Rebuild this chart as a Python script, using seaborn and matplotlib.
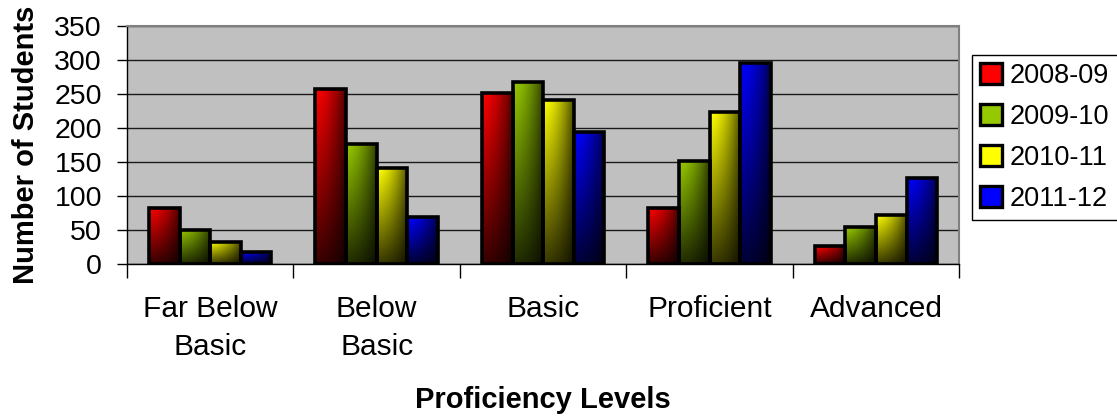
import numpy as np
import pandas as pd
import matplotlib
matplotlib.use("Agg")
import matplotlib.pyplot as plt
from matplotlib.patches import Patch
import seaborn as sns

levels = ["Far Below\nBasic", "Below\nBasic", "Basic", "Proficient", "Advanced"]
years = ["2008-09", "2009-10", "2010-11", "2011-12"]
counts_2008_09 = [83, 258, 252, 83, 26]
counts_2009_10 = [50, 176, 267, 151, 54]
counts_2010_11 = [33, 141, 241, 223, 72]
counts_2011_12 = [18, 69, 194, 296, 127]
year_colors = ["#FF0000", "#96C800", "#FFFF00", "#0000FF"]

rows = []
for yr, vals in zip(years, [counts_2008_09, counts_2009_10, counts_2010_11, counts_2011_12]):
    for lvl, v in zip(levels, vals):
        rows.append({"Level": lvl, "Year": yr, "Students": v})
df = pd.DataFrame(rows)

sns.set_theme(style="white")
plt.rcParams["font.family"] = ["Liberation Sans", "DejaVu Sans"]
plt.rcParams.update({"text.color": "black", "axes.labelcolor": "black",
                     "xtick.color": "black", "ytick.color": "black"})

fig = plt.figure(figsize=(11.17, 4.18), dpi=100)
ax = fig.add_axes([0.1137, 0.368, 0.745, 0.570])
ax.set_facecolor("#C0C0C0")

sns.barplot(data=df, x="Level", y="Students", hue="Year", order=levels,
            hue_order=years, palette=year_colors, width=0.735, gap=0,
            edgecolor="black", linewidth=2.6, saturation=1, ax=ax,
            legend=False)


def shade(rgb, ny=200, nx=60):
    # bright at the top-left corner, fading towards the bottom and right
    yf = np.linspace(0, 1, ny)[:, None]
    xf = np.linspace(0, 1, nx)[None, :]
    mult = (1 - 0.68 * xf ** 1.6) * (1 - 0.78 * yf)
    return np.clip(np.array(rgb)[None, None, :] * mult[..., None], 0, 1)


for container, col in zip(ax.containers, year_colors):
    rgb = matplotlib.colors.to_rgb(col)
    img = shade(rgb)
    for bar in container:
        x0, y0 = bar.get_x(), bar.get_y()
        w, h = bar.get_width(), bar.get_height()
        im = ax.imshow(img, extent=[x0, x0 + w, y0, y0 + h], origin="upper",
                       aspect="auto", zorder=2, interpolation="bilinear")
        im.set_clip_path(bar)
        bar.set_facecolor("none")
        bar.set_zorder(3)

ax.set_xlim(-0.5, 4.5)
ax.set_ylim(0, 350)
ax.set_yticks(np.arange(0, 351, 50))
ax.yaxis.grid(True, color="#1a1a1a", linewidth=1.0)
ax.set_axisbelow(True)

ax.set_xticks(range(len(levels)))
ax.set_xticklabels(levels, fontsize=21.5, linespacing=1.45)
ax.tick_params(axis="x", which="major", length=0, pad=22)
ax.set_xticks(np.arange(-0.5, 5, 1), minor=True)
ax.tick_params(axis="x", which="minor", length=10, width=1, color="black",
               direction="out", bottom=True)
ax.tick_params(axis="y", length=7, width=1, color="black", direction="out",
               labelsize=20.5, pad=11, left=True)

for side in ["top", "right"]:
    ax.spines[side].set_color("#808080")
    ax.spines[side].set_linewidth(1.5)
for side in ["left", "bottom"]:
    ax.spines[side].set_color("black")
    ax.spines[side].set_linewidth(1.0)

ax.set_xlabel("Proficiency Levels", fontsize=21, fontweight="bold", labelpad=18)
ax.set_ylabel("Number of Students", fontsize=21, fontweight="bold", labelpad=10)

handles = [Patch(facecolor=c, edgecolor="black", linewidth=2.4) for c in year_colors]
leg = fig.legend(handles, years, loc="upper left",
                 bbox_to_anchor=(972 / 1117, 1 - 55 / 418),
                 fontsize=19.5, frameon=True, fancybox=False, framealpha=1,
                 edgecolor="black", handlelength=0.82, handleheight=0.82,
                 handletextpad=0.28, labelspacing=0.55, borderpad=0.3,
                 borderaxespad=0)
leg.get_frame().set_linewidth(1.0)
for t in leg.get_texts():
    t.set_color("black")

fig.savefig("out.png", dpi=100)
